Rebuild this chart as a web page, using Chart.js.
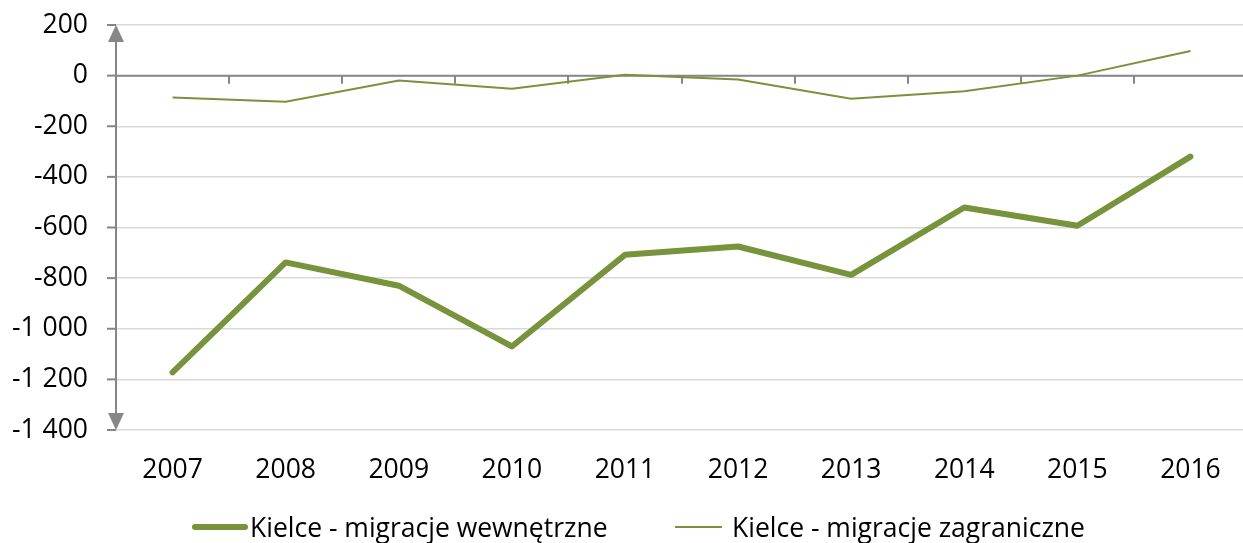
<!DOCTYPE html>
<html>
<head>
<meta charset="utf-8">
<script src="https://cdn.jsdelivr.net/npm/chart.js@4/dist/chart.umd.min.js"></script>
<style>
  html, body { margin: 0; padding: 0; background: #fff; overflow: hidden; }
  #wrap { width: 1247px; height: 543px; position: relative; }
  .leg { position: absolute; top: 511px; height: 32px; line-height: 32px;
         font-family: "Open Sans", "Noto Sans", sans-serif; font-size: 26.5px; color: #000;
         display: flex; align-items: center; white-space: nowrap; }
  .leg i { display: inline-block; background: #77933c; }
</style>
</head>
<body>
<div id="wrap">
  <canvas id="c"></canvas>
  <div class="leg" id="leg0" style="left:192px"><i style="width:56px;height:6px;border-radius:3px;margin-right:2px"></i><span></span></div>
  <div class="leg" id="leg1" style="left:675px"><i style="width:47px;height:2px;margin-right:10px"></i><span></span></div>
</div>
<script>
// --- Data ---
const years = ['2007', '2008', '2009', '2010', '2011', '2012', '2013', '2014', '2015', '2016'];
const internal = [-1172, -738, -830, -1070, -708, -675, -787, -521, -593, -320];
const foreign = [-86, -103, -19, -52, 3, -15, -91, -62, 0, 97];
const seriesNames = ['Kielce - migracje wewnętrzne', 'Kielce - migracje zagraniczne'];

const GREEN = '#77933c';
const AXIS = '#868686';
const FONT_SIZE = 26.5;

function fmt(v) {
  const s = Math.abs(v).toString().replace(/\B(?=(\d{3})+(?!\d))/g, ' ');
  return (v < 0 ? '-' : '') + s;
}

// draws the y axis with arrow heads and the zero line with category ticks
const axisPlugin = {
  id: 'axisArrows',
  beforeDatasetsDraw(chart) {
    const { ctx, chartArea: a, scales } = chart;
    const y0 = scales.y.getPixelForValue(0);
    const yTop = scales.y.getPixelForValue(200);
    const yBot = scales.y.getPixelForValue(-1400);
    const x = a.left;
    ctx.save();
    ctx.strokeStyle = AXIS;
    ctx.fillStyle = AXIS;
    ctx.lineWidth = 2;
    // zero line
    ctx.beginPath();
    ctx.moveTo(x, y0);
    ctx.lineTo(a.right, y0);
    ctx.stroke();
    // category boundary ticks
    const n = years.length;
    const step = (a.right - a.left) / n;
    for (let i = 1; i < n; i++) {
      const tx = Math.round(a.left + step * i);
      ctx.beginPath();
      ctx.moveTo(tx, y0);
      ctx.lineTo(tx, y0 + 8);
      ctx.stroke();
    }
    // y axis line
    ctx.beginPath();
    ctx.moveTo(x, yTop + 10);
    ctx.lineTo(x, yBot - 10);
    ctx.stroke();
    // y ticks
    scales.y.ticks.forEach(t => {
      const yy = scales.y.getPixelForValue(t.value);
      ctx.beginPath();
      ctx.moveTo(x - 9, yy);
      ctx.lineTo(x, yy);
      ctx.stroke();
    });
    // arrow heads
    ctx.beginPath();
    ctx.moveTo(x, yTop);
    ctx.lineTo(x - 8, yTop + 17);
    ctx.lineTo(x + 8, yTop + 17);
    ctx.closePath();
    ctx.fill();
    ctx.beginPath();
    ctx.moveTo(x, yBot);
    ctx.lineTo(x - 8, yBot - 17);
    ctx.lineTo(x + 8, yBot - 17);
    ctx.closePath();
    ctx.fill();
    ctx.restore();
  }
};

Chart.defaults.font.family = '"Open Sans", "Noto Sans", sans-serif';
Chart.defaults.font.size = FONT_SIZE;
Chart.defaults.color = '#000';

document.querySelector('#leg0 span').textContent = seriesNames[0];
document.querySelector('#leg1 span').textContent = seriesNames[1];

new Chart(document.getElementById('c'), {
  type: 'line',
  data: {
    labels: years,
    datasets: [
      {
        label: seriesNames[0],
        data: internal,
        borderColor: GREEN,
        backgroundColor: GREEN,
        borderWidth: 6,
        pointRadius: 0,
        tension: 0,
        borderCapStyle: 'round',
        borderJoinStyle: 'round'
      },
      {
        label: seriesNames[1],
        data: foreign,
        borderColor: GREEN,
        backgroundColor: GREEN,
        borderWidth: 2,
        pointRadius: 0,
        tension: 0
      }
    ]
  },
  options: {
    responsive: true,
    maintainAspectRatio: false,
    animation: false,
    layout: { padding: { top: 25, right: 0, left: 0, bottom: 59 } },
    scales: {
      x: {
        offset: true,
        grid: { display: false, drawTicks: false },
        border: { display: false },
        ticks: { padding: 25, color: '#000', font: { size: FONT_SIZE }, maxRotation: 0 },
        afterFit(scale) { scale.height = 54; }
      },
      y: {
        min: -1400,
        max: 200,
        border: { display: false },
        grid: { color: '#d9d9d9', lineWidth: 1.5, drawTicks: true, tickLength: 28, tickColor: 'rgba(0,0,0,0)' },
        ticks: {
          stepSize: 200,
          padding: 0,
          color: '#000',
          font: { size: FONT_SIZE },
          callback: v => fmt(v)
        },
        afterFit(scale) { scale.width = 116; }
      }
    },
    plugins: {
      legend: { display: false },
      tooltip: { enabled: false }
    }
  },
  plugins: [axisPlugin]
});
</script>
</body>
</html>
